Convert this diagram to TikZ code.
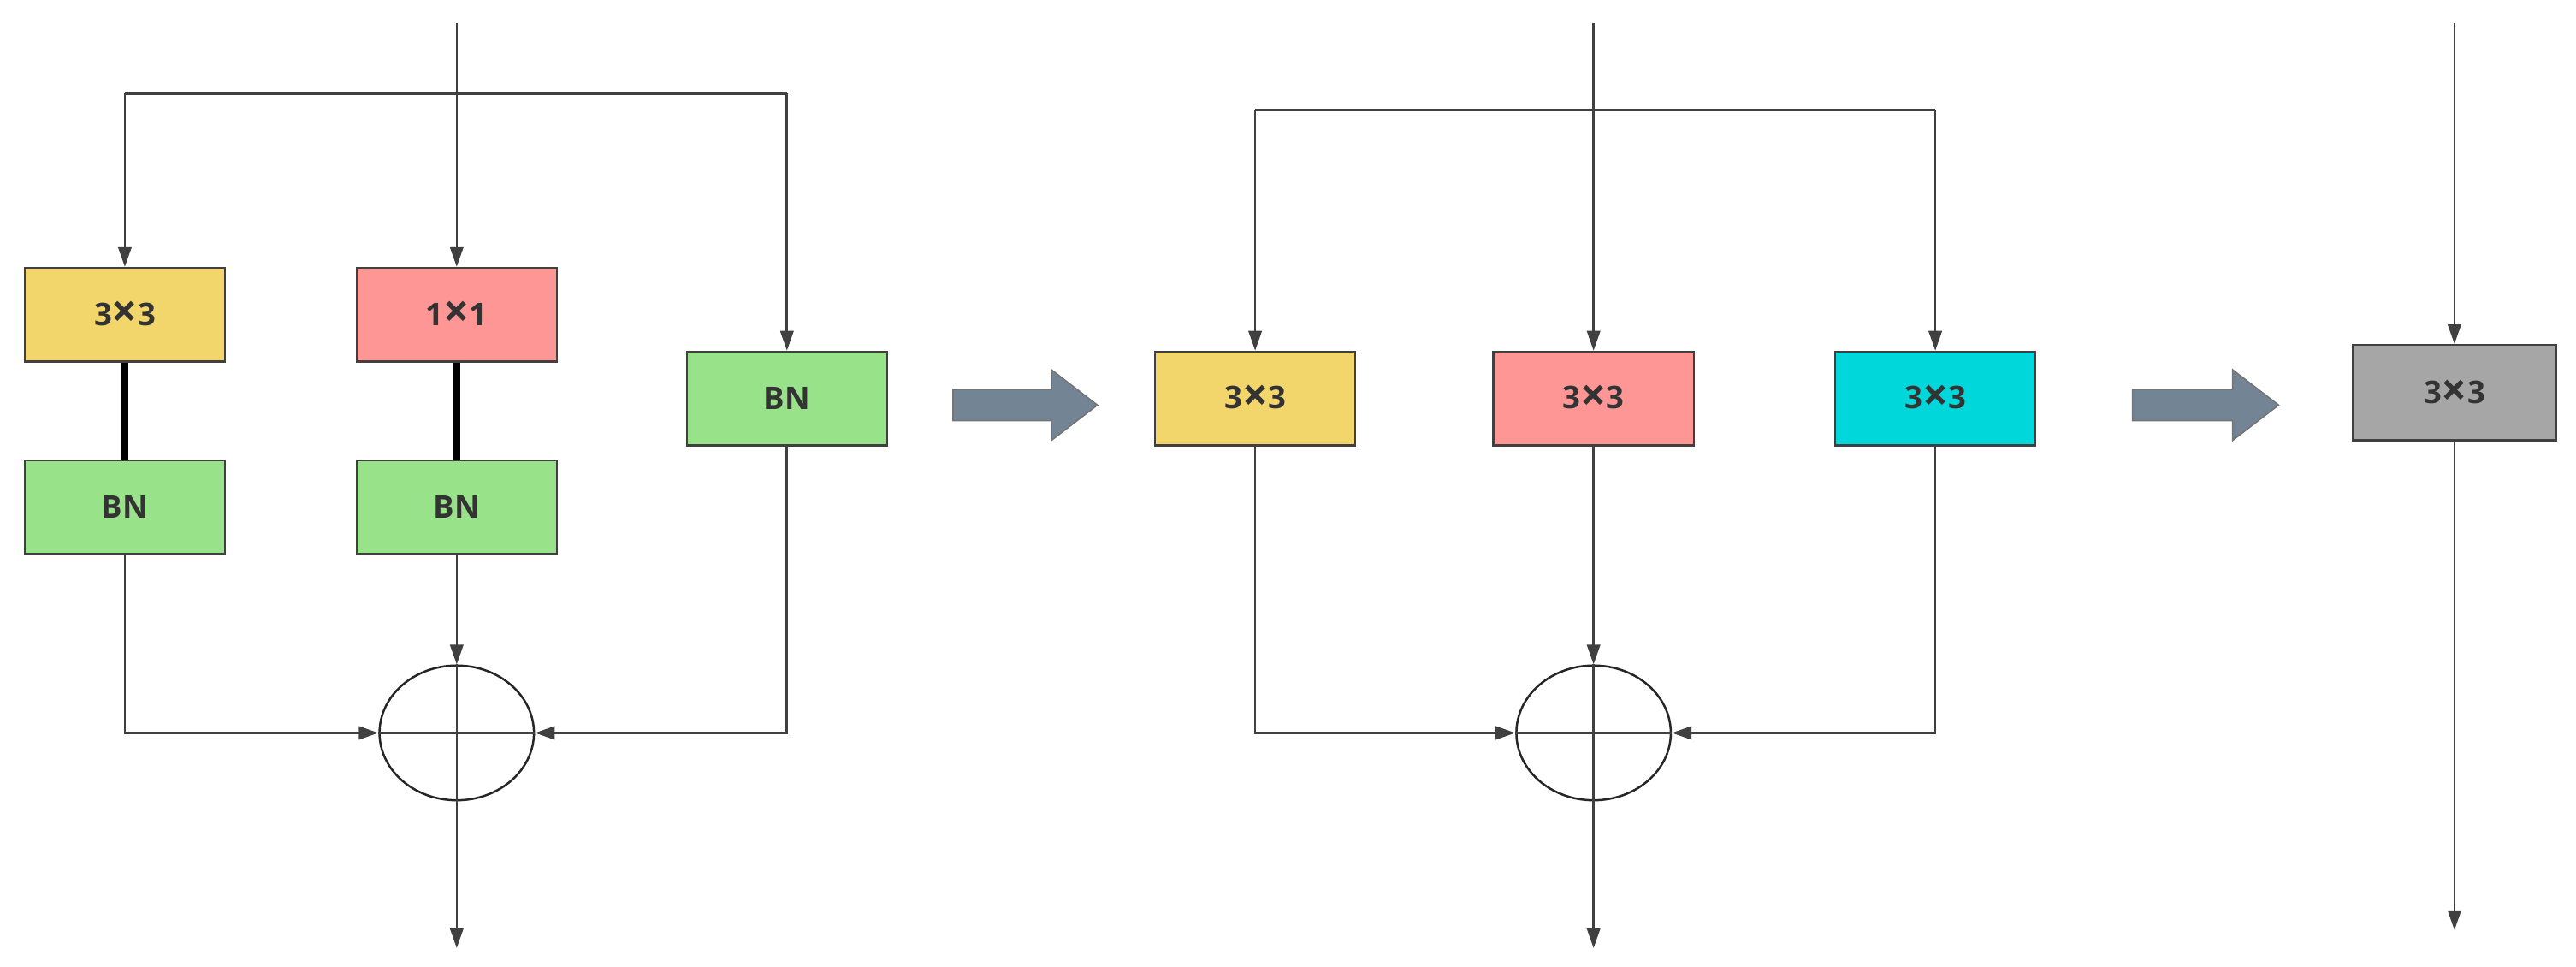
\documentclass[tikz,border=0pt]{standalone}
\usepackage{fontspec}
\usepackage{graphicx}
\setmainfont{Open Sans}
\usetikzlibrary{arrows.meta,shapes.geometric}
\newcommand{\mx}{\raisebox{-0.08em}{\scalebox{1.45}{×}}}
\begin{document}
\begin{tikzpicture}[x=1pt,y=-1pt,
  ln/.style={draw=black!75,line width=1.4pt},
  ar/.style={ln,-{Triangle[length=12pt,width=8pt]}},
  box/.style={draw=black!75,line width=1.2pt,minimum width=122pt,minimum height=57pt,inner sep=0pt,font=\bfseries\fontsize{19}{19}\selectfont,text=black!80},
  add/.style={draw=black!85,line width=1.3pt,ellipse,minimum width=94pt,minimum height=82pt,inner sep=0pt},
  big/.style={draw=black!55,fill=slate,line width=0.8pt}]
\definecolor{slate}{HTML}{738594}
\useasboundingbox (0,0) rectangle (1568,588);
\definecolor{cy}{HTML}{F2D66B}\definecolor{cp}{HTML}{FF9696}
\definecolor{cg}{HTML}{98E38A}\definecolor{cc}{HTML}{00D7DB}\definecolor{cgr}{HTML}{A6A6A6}
% left
\coordinate (in1) at (278,14);
\coordinate (s1) at (278,57);
\coordinate (l1) at (76,57);
\coordinate (r1) at (479,57);
\node[box,fill=cy] (a33) at (76,191.5) {3\mx3};
\node[box,fill=cp] (a11) at (278,191.5) {1\mx1};
\node[box,fill=cg] (abn3) at (479,242.5) {BN};
\node[box,fill=cg] (abn1) at (76,308.5) {BN};
\node[box,fill=cg] (abn2) at (278,308.5) {BN};
\node[add] (p1) at (278,446) {};
\draw[ln] (p1.north) -- (p1.south) (p1.west) -- (p1.east);
\coordinate (o1) at (278,577);
\draw[ln] (in1) -- (s1);
\draw[ln] (l1) -- (r1);
\draw[ar] (l1) -- (a33);
\draw[ar] (s1) -- (a11);
\draw[ar] (r1) -- (abn3);
\draw[line width=4.5pt] (a33) -- (abn1);
\draw[line width=4.5pt] (a11) -- (abn2);
\draw[ar] (abn1.south) |- (p1.west);
\draw[ar] (abn3.south) |- (p1.east);
\draw[ar] (abn2) -- (p1);
\draw[ar] (p1) -- (o1);
\draw[big] (580,237) -- (640,237) -- (640,225) -- (668,246.5) -- (640,268) -- (640,256) -- (580,256) -- cycle;
% middle
\coordinate (in2) at (970,14);
\coordinate (s2) at (970,67);
\coordinate (l2) at (764,67);
\coordinate (r2) at (1178,67);
\node[box,fill=cy] (m1) at (764,242.5) {3\mx3};
\node[box,fill=cp] (m2) at (970,242.5) {3\mx3};
\node[box,fill=cc] (m3) at (1178,242.5) {3\mx3};
\node[add] (p2) at (970,446) {};
\draw[ln] (p2.north) -- (p2.south) (p2.west) -- (p2.east);
\coordinate (o2) at (970,577);
\draw[ln] (in2) -- (s2);
\draw[ln] (l2) -- (r2);
\draw[ar] (l2) -- (m1);
\draw[ar] (s2) -- (m2);
\draw[ar] (r2) -- (m3);
\draw[ar] (m1.south) |- (p2.west);
\draw[ar] (m3.south) |- (p2.east);
\draw[ar] (m2) -- (p2);
\draw[ar] (p2) -- (o2);
\draw[big] (1298,237) -- (1359,237) -- (1359,225) -- (1387,246.5) -- (1359,268) -- (1359,256) -- (1298,256) -- cycle;
% right
\coordinate (in3) at (1494,14);
\node[box,fill=cgr,minimum width=124pt,minimum height=58pt] (g) at (1494,239) {3\mx3};
\coordinate (o3) at (1494,566);
\draw[ar] (in3) -- (g);
\draw[ar] (g) -- (o3);
\end{tikzpicture}
\end{document}
